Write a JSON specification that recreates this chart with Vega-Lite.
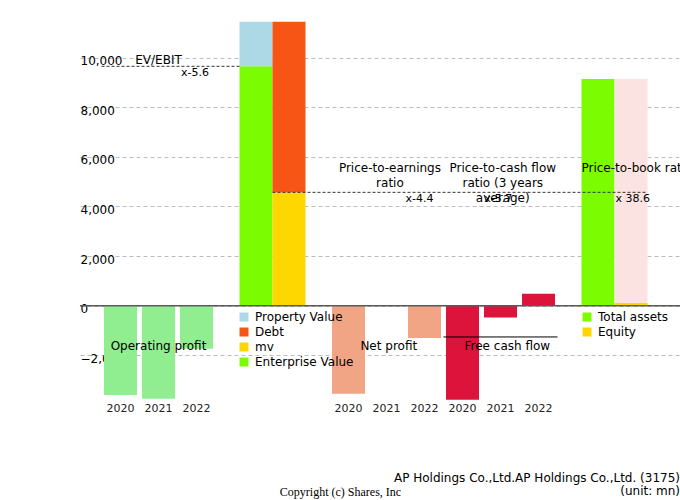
{
"$schema": "https://vega.github.io/schema/vega-lite/v6.json",
"width": 600, "height": 392,
"autosize": {"type": "none"},
"padding": {"left": 80, "top": 8, "right": 0, "bottom": 100},
"title": {"text": "AP Holdings Co.,Ltd.AP Holdings Co.,Ltd. (3175)", "subtitle": "(unit: mn)", "orient": "bottom", "anchor": "end", "frame": "group", "fontSize": 12, "fontWeight": "normal", "subtitleFontSize": 12, "color": "#000", "subtitleColor": "#000", "offset": -24, "subtitlePadding": 1},
"datasets": {
"flows": [
{"metric": "Operating profit", "year": "2020", "value": -3600},
{"metric": "Operating profit", "year": "2021", "value": -3750},
{"metric": "Operating profit", "year": "2022", "value": -1730},
{"metric": "Net profit", "year": "2020", "value": -3550},
{"metric": "Net profit", "year": "2021", "value": -15},
{"metric": "Net profit", "year": "2022", "value": -1300},
{"metric": "Free cash flow", "year": "2020", "value": -3790},
{"metric": "Free cash flow", "year": "2021", "value": -470},
{"metric": "Free cash flow", "year": "2022", "value": 485}
],
"valuation": [
{"group": "Enterprise value", "side": "L", "part": "Enterprise Value", "lo": 0, "hi": 9650},
{"group": "Enterprise value", "side": "L", "part": "Property Value", "lo": 9650, "hi": 11450},
{"group": "Enterprise value", "side": "R", "part": "mv", "lo": 0, "hi": 4570},
{"group": "Enterprise value", "side": "R", "part": "Debt", "lo": 4570, "hi": 11450}
],
"balance": [
{"group": "Total assets", "side": "L", "part": "Total assets", "lo": 0, "hi": 9140},
{"group": "Total assets", "side": "R", "part": "Equity", "lo": 0, "hi": 120},
{"group": "Total assets", "side": "R", "part": "Liabilities", "lo": 120, "hi": 9140}
]
},
"config": {"font": "DejaVu Sans", "view": {"stroke": null}},
"resolve": {"scale": {"color": "independent", "xOffset": "independent"}},
"layer": [
{"data": {"name": "flows"}, "mark": {"type": "bar"},
 "encoding": {
  "x": {"field": "metric", "type": "nominal", "scale": {"domain": ["Operating profit", "Enterprise value", "Net profit", "Free cash flow", "Total assets"], "paddingInner": 0, "paddingOuter": 0.1316, "align": 0.7167},
        "axis": {"labels": false, "ticks": false, "domain": false, "grid": false, "title": "Copyright (c) Shares, Inc", "titleFont": "Liberation Serif", "titleFontSize": 12, "titleFontWeight": "normal", "titleColor": "#000", "titleX": 260, "titleY": 91, "titleAlign": "center", "titleBaseline": "middle"}},
  "xOffset": {"field": "year", "type": "nominal", "scale": {"domain": ["2020", "2021", "2022"], "paddingInner": 0.1316, "paddingOuter": 0.0658}},
  "y": {"field": "value", "type": "quantitative", "title": null, "scale": {"domain": [-3800, 12000], "nice": false, "zero": false},
        "axis": {"values": [-2000, 0, 2000, 4000, 6000, 8000, 10000], "format": ",.0f", "title": null, "domain": false, "ticks": false, "tickSize": 0, "labelAlign": "left", "labelPadding": 0, "labelFontSize": 12, "labelColor": "#000", "labelOffset": 3, "gridDash": [4, 3], "gridColor": "#bdbdbd", "gridWidth": 1}},
  "color": {"field": "metric", "type": "nominal", "scale": {"domain": ["Operating profit", "Net profit", "Free cash flow"], "range": ["#90ee90", "#f1a585", "#dc143c"]}, "legend": null}
 }},
{"data": {"name": "flows"}, "mark": {"type": "text", "baseline": "top", "dy": 3, "fontSize": 11, "color": "#222"},
 "encoding": {
  "x": {"field": "metric", "type": "nominal"},
  "xOffset": {"field": "year", "type": "nominal", "scale": {"type": "point", "domain": ["2020", "2021", "2022"], "padding": 0.5}},
  "y": {"datum": -3800},
  "text": {"field": "year"}
 }},
{"data": {"name": "valuation"}, "mark": {"type": "bar"},
 "encoding": {
  "x": {"field": "group", "type": "nominal"},
  "xOffset": {"field": "side", "type": "nominal", "scale": {"domain": ["L", "R"], "paddingInner": 0, "paddingOuter": 0.727}},
  "y": {"field": "hi", "type": "quantitative", "title": null},
  "y2": {"field": "lo"},
  "color": {"field": "part", "type": "nominal", "scale": {"domain": ["Property Value", "Debt", "mv", "Enterprise Value"], "range": ["#add8e6", "#f75516", "#ffd700", "#7cfc00"]},
            "legend": {"orient": "none", "legendX": 158, "legendY": 303, "title": null, "symbolType": "square", "symbolSize": 81, "symbolStrokeWidth": 0, "labelFontSize": 12, "labelColor": "#000", "rowPadding": 3, "labelOffset": 5, "padding": 0}}
 }},
{"data": {"name": "balance"}, "mark": {"type": "bar"},
 "encoding": {
  "x": {"field": "group", "type": "nominal"},
  "xOffset": {"field": "side", "type": "nominal", "scale": {"domain": ["L", "R"], "paddingInner": 0, "paddingOuter": 0.727}},
  "y": {"field": "hi", "type": "quantitative", "title": null},
  "y2": {"field": "lo"},
  "color": {"field": "part", "type": "nominal", "scale": {"domain": ["Total assets", "Equity", "Liabilities"], "range": ["#7cfc00", "#ffd700", "#fae3e1"]},
            "legend": {"values": ["Total assets", "Equity"], "orient": "none", "legendX": 501, "legendY": 303, "title": null, "symbolType": "square", "symbolSize": 81, "symbolStrokeWidth": 0, "labelFontSize": 12, "labelColor": "#000", "rowPadding": 3, "labelOffset": 5, "padding": 0}}
 }},
{"data": {"values": [{}]}, "mark": {"type": "rule", "color": "#5a5a5a", "strokeWidth": 1.5},
 "encoding": {"y": {"datum": 0}}},
{"data": {"values": [{}]}, "mark": {"type": "rule", "color": "#333", "strokeDash": [3, 2], "strokeWidth": 1},
 "encoding": {"x": {"datum": "Operating profit", "bandPosition": 0}, "x2": {"datum": "Enterprise value", "bandPosition": 0.21}, "y": {"datum": 9650}}},
{"data": {"values": [{}]}, "mark": {"type": "rule", "color": "#333", "strokeDash": [3, 2], "strokeWidth": 1},
 "encoding": {"x": {"datum": "Enterprise value", "bandPosition": 0.5}, "x2": {"datum": "Total assets", "bandPosition": 0.79}, "y": {"datum": 4570}}},
{"data": {"values": [{}]}, "mark": {"type": "rule", "color": "#000", "strokeWidth": 1},
 "encoding": {"x": {"datum": "Free cash flow", "bandPosition": 0}, "x2": {"datum": "Free cash flow", "bandPosition": 1}, "y": {"datum": -1259}}},
{"data": {"values": [{}]}, "mark": {"type": "text", "text": "EV/EBIT", "baseline": "bottom", "dy": 1, "fontSize": 12, "color": "#000"},
 "encoding": {"x": {"datum": "Operating profit", "bandPosition": 0.5}, "y": {"datum": 9650}}},
{"data": {"values": [{}]}, "mark": {"type": "text", "text": "x-5.6", "baseline": "top", "dy": 1, "fontSize": 11, "color": "#000"},
 "encoding": {"x": {"datum": "Operating profit", "bandPosition": 0.82}, "y": {"datum": 9650}}},
{"data": {"values": [{}]}, "mark": {"type": "text", "text": ["Price-to-earnings", "ratio"], "baseline": "top", "dy": -29, "lineHeight": 15, "fontSize": 12, "color": "#000"},
 "encoding": {"x": {"datum": "Net profit", "bandPosition": 0.53}, "y": {"datum": 4570}}},
{"data": {"values": [{}]}, "mark": {"type": "text", "text": "x-4.4", "baseline": "top", "dy": 1, "fontSize": 11, "color": "#000"},
 "encoding": {"x": {"datum": "Net profit", "bandPosition": 0.79}, "y": {"datum": 4570}}},
{"data": {"values": [{}]}, "mark": {"type": "text", "text": ["Price-to-cash flow", "ratio (3 years", "average)"], "baseline": "top", "dy": -29, "lineHeight": 15, "fontSize": 12, "color": "#000"},
 "encoding": {"x": {"datum": "Free cash flow", "bandPosition": 0.52}, "y": {"datum": 4570}}},
{"data": {"values": [{}]}, "mark": {"type": "text", "text": "x-5.7", "baseline": "top", "dy": 1, "fontSize": 11, "color": "#000"},
 "encoding": {"x": {"datum": "Free cash flow", "bandPosition": 0.48}, "y": {"datum": 4570}}},
{"data": {"values": [{}]}, "mark": {"type": "text", "text": "Price-to-book ratio", "align": "left", "baseline": "top", "dy": -29, "fontSize": 12, "color": "#000"},
 "encoding": {"x": {"datum": "Total assets", "bandPosition": 0.21}, "y": {"datum": 4570}}},
{"data": {"values": [{}]}, "mark": {"type": "text", "text": "x 38.6", "baseline": "top", "dy": 1, "fontSize": 11, "color": "#000"},
 "encoding": {"x": {"datum": "Total assets", "bandPosition": 0.66}, "y": {"datum": 4570}}},
{"data": {"values": [{}]}, "mark": {"type": "text", "text": "Operating profit", "baseline": "middle", "fontSize": 12, "color": "#000"},
 "encoding": {"x": {"datum": "Operating profit", "bandPosition": 0.5}, "y": {"datum": -1620}}},
{"data": {"values": [{}]}, "mark": {"type": "text", "text": "Net profit", "baseline": "middle", "fontSize": 12, "color": "#000"},
 "encoding": {"x": {"datum": "Net profit", "bandPosition": 0.52}, "y": {"datum": -1620}}},
{"data": {"values": [{}]}, "mark": {"type": "text", "text": "Free cash flow", "baseline": "middle", "fontSize": 12, "color": "#000"},
 "encoding": {"x": {"datum": "Free cash flow", "bandPosition": 0.56}, "y": {"datum": -1620}}}
]
}
